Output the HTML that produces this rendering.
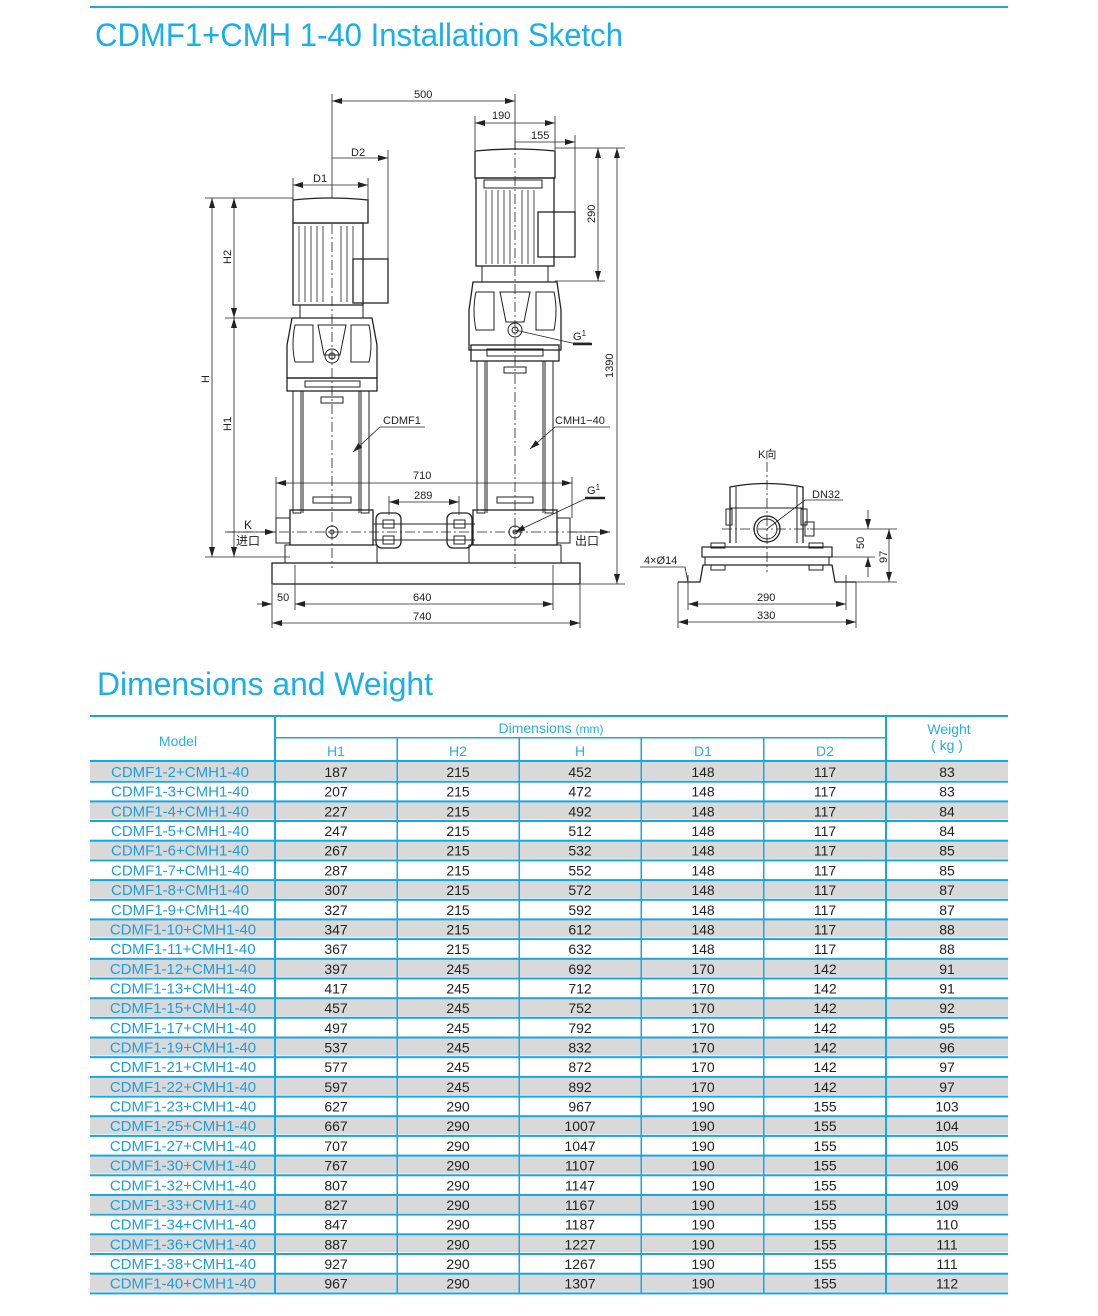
<!DOCTYPE html>
<html><head><meta charset="utf-8"><style>
html,body{margin:0;padding:0;background:#fff}
svg{display:block}
.t{font-family:"Liberation Sans","Noto Sans CJK SC",sans-serif}
.d{font-family:"Liberation Sans","Noto Sans CJK SC",sans-serif;font-size:11px;fill:#222}
.m{font-size:15px;fill:#1a9fe0;text-anchor:middle;font-family:"Liberation Sans",sans-serif}
.n{font-size:14px;fill:#222;text-anchor:middle;font-family:"Liberation Sans",sans-serif}
.h{font-size:14px;fill:#29aee8;text-anchor:middle;font-family:"Liberation Sans",sans-serif}
</style></head><body>
<svg width="1098" height="1316" viewBox="0 0 1098 1316" xmlns="http://www.w3.org/2000/svg">
<defs>
<marker id="a" viewBox="0 0 10 6" refX="10" refY="3" markerWidth="10" markerHeight="6" orient="auto-start-reverse" markerUnits="userSpaceOnUse"><path d="M0,0 L10,3 L0,6 z" fill="#222"/></marker>
</defs>
<rect x="90" y="6" width="918" height="2" fill="#1aa8e6"/>
<text x="95" y="46" class="t" font-size="32" fill="#1aaeea" textLength="528" lengthAdjust="spacingAndGlyphs">CDMF1+CMH 1-40 Installation Sketch</text>
<text x="97" y="695" class="t" font-size="32" fill="#1aaeea" textLength="336" lengthAdjust="spacingAndGlyphs">Dimensions and Weight</text>

<!-- DRAWING -->
<g stroke="#222" fill="none" stroke-width="1">
<g stroke-dasharray="10,3,2,3" stroke-width="0.8">
<line x1="332" y1="188" x2="332" y2="568"/>
<line x1="515" y1="140" x2="515" y2="568"/>
<line x1="225" y1="532" x2="610" y2="532"/>
<line x1="767" y1="462" x2="767" y2="572"/>
<line x1="722" y1="529" x2="812" y2="529"/>
</g>
<path d="M293,200 Q330,196 368,200 L368,223 L293,223 Z" fill="#fff" stroke-width="1.3"/>
<rect x="293" y="223" width="70" height="82" stroke-width="1.3"/>
<g stroke-width="0.8">
<line x1="299" y1="226" x2="299" y2="302"/><line x1="305" y1="226" x2="305" y2="302"/><line x1="311" y1="226" x2="311" y2="302"/><line x1="317" y1="226" x2="317" y2="302"/><line x1="323" y1="226" x2="323" y2="302"/><line x1="341" y1="226" x2="341" y2="302"/><line x1="347" y1="226" x2="347" y2="302"/><line x1="353" y1="226" x2="353" y2="302"/>
</g>
<rect x="353" y="259" width="35" height="44" stroke-width="1.3"/>
<rect x="300" y="305" width="63" height="13"/>
<path d="M292,318 L372,318 L377,345 L377,378 L287,378 L287,345 Z" stroke-width="1.3"/>
<path d="M295,325 L313,325 L313,362 L295,362 Q291,345 295,325Z"/><path d="M351,325 L369,325 Q373,345 369,362 L351,362Z"/>
<path d="M318,325 L346,325 L340,355 L324,355Z"/>
<circle cx="332" cy="356" r="7"/><circle cx="332" cy="356" r="3"/>
<rect x="287" y="378" width="90" height="13" stroke-width="1.3"/>
<rect x="305" y="381" width="55" height="6"/>
<rect x="293" y="391" width="8" height="122"/><rect x="361" y="391" width="8" height="122"/>
<line x1="303" y1="391" x2="303" y2="513"/><line x1="359" y1="391" x2="359" y2="513"/>
<rect x="321" y="397" width="22" height="6"/>
<rect x="313" y="497" width="38" height="6"/>
<rect x="290" y="510" width="83" height="35" stroke-width="1.3"/>
<circle cx="332" cy="532" r="6"/><circle cx="332" cy="532" r="2"/>
<rect x="276" y="518" width="14" height="25"/>
<rect x="285" y="545" width="92" height="18"/>
<path d="M475,151 Q515,147 555,151 L555,178 L475,178 Z" stroke-width="1.3"/>
<rect x="476" y="178" width="78" height="88" stroke-width="1.3"/>
<rect x="484" y="180" width="58" height="8"/>
<g stroke-width="0.8">
<line x1="486" y1="190" x2="486" y2="264"/><line x1="492" y1="190" x2="492" y2="264"/><line x1="498" y1="190" x2="498" y2="264"/><line x1="504" y1="190" x2="504" y2="264"/><line x1="510" y1="190" x2="510" y2="264"/><line x1="522" y1="190" x2="522" y2="264"/><line x1="528" y1="190" x2="528" y2="264"/><line x1="534" y1="190" x2="534" y2="264"/>
</g>
<rect x="538" y="212" width="37" height="45" stroke-width="1.3"/>
<rect x="482" y="266" width="66" height="16"/>
<path d="M473,282 L557,282 L561,310 L561,350 L469,350 L469,310 Z" stroke-width="1.3"/>
<path d="M476,292 L494,292 L494,330 L476,330 Q472,310 476,292Z"/><path d="M536,292 L554,292 Q558,310 554,330 L536,330Z"/>
<path d="M500,292 L530,292 L524,322 L506,322Z"/>
<circle cx="515" cy="330" r="7"/><circle cx="515" cy="330" r="3"/>
<rect x="471" y="345" width="88" height="16" stroke-width="1.3"/>
<rect x="487" y="349" width="56" height="7"/>
<rect x="477" y="361" width="8" height="152"/><rect x="545" y="361" width="8" height="152"/>
<line x1="487" y1="361" x2="487" y2="513"/><line x1="543" y1="361" x2="543" y2="513"/>
<rect x="504" y="367" width="22" height="6"/>
<rect x="497" y="497" width="36" height="6"/>
<rect x="473" y="510" width="84" height="35" stroke-width="1.3"/>
<circle cx="515" cy="532" r="6"/><circle cx="515" cy="532" r="2"/>
<rect x="557" y="518" width="13" height="25"/>
<rect x="469" y="545" width="92" height="18"/>
<line x1="373" y1="524" x2="475" y2="524"/><line x1="373" y1="540" x2="475" y2="540"/>
<rect x="376" y="513" width="25" height="35" rx="6" stroke-width="1.3"/>
<rect x="447" y="513" width="25" height="35" rx="6" stroke-width="1.3"/>
<rect x="383" y="520" width="11" height="8"/><rect x="383" y="536" width="11" height="8"/>
<rect x="454" y="520" width="11" height="8"/><rect x="454" y="536" width="11" height="8"/>
<rect x="272" y="563" width="308" height="21" stroke-width="1.3"/>
<g stroke-width="0.8">
<line x1="332" y1="94" x2="332" y2="190"/><line x1="515" y1="94" x2="515" y2="150"/>
<line x1="332" y1="101" x2="515" y2="101" marker-start="url(#a)" marker-end="url(#a)"/>
<line x1="475" y1="116" x2="475" y2="150"/><line x1="555" y1="116" x2="555" y2="150"/>
<line x1="475" y1="123" x2="555" y2="123" marker-start="url(#a)" marker-end="url(#a)"/>
<line x1="575" y1="135" x2="575" y2="212"/>
<line x1="515" y1="142" x2="575" y2="142" marker-end="url(#a)"/>
<line x1="388" y1="150" x2="388" y2="259"/>
<line x1="332" y1="158" x2="388" y2="158" marker-end="url(#a)"/>
<line x1="293" y1="178" x2="293" y2="200"/><line x1="368" y1="178" x2="368" y2="200"/>
<line x1="293" y1="185" x2="368" y2="185" marker-start="url(#a)" marker-end="url(#a)"/>
<line x1="205" y1="198" x2="293" y2="198"/><line x1="225" y1="318" x2="292" y2="318"/><line x1="205" y1="557" x2="290" y2="557"/>
<line x1="212" y1="198" x2="212" y2="557" marker-start="url(#a)" marker-end="url(#a)"/>
<line x1="234" y1="198" x2="234" y2="318" marker-start="url(#a)" marker-end="url(#a)"/>
<line x1="234" y1="318" x2="234" y2="557" marker-start="url(#a)" marker-end="url(#a)"/>
<line x1="555" y1="148" x2="625" y2="148"/><line x1="555" y1="281" x2="605" y2="281"/><line x1="580" y1="584" x2="625" y2="584"/>
<line x1="598" y1="148" x2="598" y2="281" marker-start="url(#a)" marker-end="url(#a)"/>
<line x1="617" y1="148" x2="617" y2="584" marker-start="url(#a)" marker-end="url(#a)"/>
<line x1="276" y1="477" x2="276" y2="518"/><line x1="572" y1="477" x2="572" y2="518"/>
<line x1="276" y1="483" x2="572" y2="483" marker-start="url(#a)" marker-end="url(#a)"/>
<line x1="389" y1="496" x2="389" y2="515"/><line x1="459" y1="496" x2="459" y2="515"/>
<line x1="389" y1="502" x2="459" y2="502" marker-start="url(#a)" marker-end="url(#a)"/>
<line x1="272" y1="585" x2="272" y2="628"/><line x1="580" y1="585" x2="580" y2="628"/>
<line x1="295" y1="565" x2="295" y2="610"/><line x1="553" y1="565" x2="553" y2="610"/>
<line x1="257" y1="604" x2="272" y2="604" marker-end="url(#a)"/>
<line x1="295" y1="604" x2="553" y2="604" marker-start="url(#a)" marker-end="url(#a)"/>
<line x1="272" y1="623" x2="580" y2="623" marker-start="url(#a)" marker-end="url(#a)"/>
<line x1="227" y1="532" x2="275" y2="532" marker-end="url(#a)"/>
<line x1="570" y1="532" x2="610" y2="532" marker-end="url(#a)"/>
<polyline points="425,427 380,427 353,452" marker-end="url(#a)"/>
<polyline points="610,427 555,427 530,449" marker-end="url(#a)"/>
<polyline points="590,343 572,343 515,330"/>
<polyline points="605,498 587,498 515,532" marker-end="url(#a)"/>
</g>
<line x1="573" y1="344" x2="592" y2="344" stroke-width="2.5"/>
<line x1="585" y1="498" x2="605" y2="498" stroke-width="2.5"/>
<path d="M730,543 L730,487 Q767,480 803,487 L803,543" stroke-width="1.3"/>
<line x1="736" y1="487" x2="736" y2="543"/><line x1="797" y1="487" x2="797" y2="543"/>
<line x1="730" y1="508" x2="803" y2="508"/>
<rect x="726" y="509" width="6" height="16"/><rect x="801" y="509" width="6" height="16"/>
<circle cx="767" cy="529" r="13" stroke-width="1.3"/><circle cx="767" cy="529" r="10"/>
<rect x="805" y="522" width="9" height="14"/>
<rect x="702" y="547" width="130" height="10" stroke-width="1.2"/>
<rect x="705" y="557" width="124" height="8"/>
<rect x="711" y="543" width="14" height="5"/><rect x="809" y="543" width="14" height="5"/>
<rect x="711" y="565" width="14" height="5"/><rect x="809" y="565" width="14" height="5"/>
<polyline points="678,582 700,582 703,565 832,565 835,582 856,582" stroke-width="1.3"/>
<g stroke-width="0.8">
<polyline points="843,500 805,500 767,529"/>
<line x1="678" y1="582" x2="678" y2="628"/><line x1="856" y1="582" x2="856" y2="628"/>
<line x1="688" y1="575" x2="688" y2="610"/><line x1="846" y1="575" x2="846" y2="610"/>
<line x1="688" y1="604" x2="846" y2="604" marker-start="url(#a)" marker-end="url(#a)"/>
<line x1="678" y1="622" x2="856" y2="622" marker-start="url(#a)" marker-end="url(#a)"/>
<line x1="810" y1="529" x2="897" y2="529"/><line x1="825" y1="557" x2="875" y2="557"/><line x1="856" y1="582" x2="897" y2="582"/>
<line x1="868" y1="510" x2="868" y2="529" marker-end="url(#a)"/><line x1="868" y1="577" x2="868" y2="557" marker-end="url(#a)"/>
<line x1="889" y1="529" x2="889" y2="582" marker-start="url(#a)" marker-end="url(#a)"/>
<polyline points="640,567 685,567 688,582"/>
</g>
</g>
<g class="d">
<text x="414" y="98">500</text><text x="492" y="119">190</text><text x="531" y="139">155</text>
<text x="351" y="156">D2</text><text x="313" y="182">D1</text>
<text x="231" y="264" transform="rotate(-90 231 264)">H2</text>
<text x="209" y="383" transform="rotate(-90 209 383)">H</text>
<text x="231" y="431" transform="rotate(-90 231 431)">H1</text>
<text x="595" y="223" transform="rotate(-90 595 223)">290</text>
<text x="613" y="378" transform="rotate(-90 613 378)">1390</text>
<text x="383" y="424">CDMF1</text><text x="555" y="424">CMH1−40</text>
<text x="573" y="340">G<tspan font-size="8" dy="-4">1</tspan></text>
<text x="587" y="494">G<tspan font-size="8" dy="-4">1</tspan></text>
<text x="413" y="479">710</text><text x="414" y="499">289</text>
<text x="244" y="529" font-size="12">K</text><text x="236" y="545" font-size="12">进口</text>
<text x="575" y="545" font-size="12">出口</text>
<text x="277" y="601">50</text><text x="413" y="601">640</text><text x="413" y="620">740</text>
<text x="758" y="458">K向</text><text x="812" y="498">DN32</text>
<text x="644" y="564">4×Ø14</text>
<text x="757" y="601">290</text><text x="757" y="619">330</text>
<text x="864" y="549" transform="rotate(-90 864 549)">50</text>
<text x="887" y="563" transform="rotate(-90 887 563)">97</text>
</g>

<g>
<rect x="90" y="715" width="918" height="2" fill="#18a6e4"/>
<rect x="275" y="737" width="611" height="1.5" fill="#18a6e4"/>
<rect x="90" y="760" width="918" height="2" fill="#18a6e4"/>
<text x="178" y="746" class="h">Model</text>
<text x="551" y="733" class="h">Dimensions <tspan font-size="12">(mm)</tspan></text>
<text x="949" y="734" class="h">Weight</text>
<text x="947" y="750" class="h" font-size="12">( kg )</text>
<text x="336" y="756" class="h">H1</text><text x="458" y="756" class="h">H2</text><text x="580" y="756" class="h">H</text><text x="703" y="756" class="h">D1</text><text x="825" y="756" class="h">D2</text>
</g>
<g fill="#d9d9d9">
<rect x="90" y="762" width="918" height="18"/><rect x="90" y="801.4" width="918" height="18"/><rect x="90" y="840.7" width="918" height="18"/><rect x="90" y="880.1" width="918" height="18"/><rect x="90" y="919.4" width="918" height="18"/><rect x="90" y="958.8" width="918" height="18"/><rect x="90" y="998.2" width="918" height="18"/><rect x="90" y="1037.5" width="918" height="18"/><rect x="90" y="1076.9" width="918" height="18"/><rect x="90" y="1116.2" width="918" height="18"/><rect x="90" y="1155.6" width="918" height="18"/><rect x="90" y="1195" width="918" height="18"/><rect x="90" y="1234.3" width="918" height="18"/><rect x="90" y="1273.7" width="918" height="18"/>
</g>
<g fill="#18a6e4">
<rect x="90" y="780.7" width="918" height="2"/><rect x="90" y="800.4" width="918" height="2"/><rect x="90" y="820" width="918" height="2"/><rect x="90" y="839.7" width="918" height="2"/><rect x="90" y="859.4" width="918" height="2"/><rect x="90" y="879.1" width="918" height="2"/><rect x="90" y="898.8" width="918" height="2"/><rect x="90" y="918.4" width="918" height="2"/><rect x="90" y="938.1" width="918" height="2"/><rect x="90" y="957.8" width="918" height="2"/><rect x="90" y="977.5" width="918" height="2"/><rect x="90" y="997.2" width="918" height="2"/><rect x="90" y="1016.8" width="918" height="2"/><rect x="90" y="1036.5" width="918" height="2"/><rect x="90" y="1056.2" width="918" height="2"/><rect x="90" y="1075.9" width="918" height="2"/><rect x="90" y="1095.6" width="918" height="2"/><rect x="90" y="1115.2" width="918" height="2"/><rect x="90" y="1134.9" width="918" height="2"/><rect x="90" y="1154.6" width="918" height="2"/><rect x="90" y="1174.3" width="918" height="2"/><rect x="90" y="1194" width="918" height="2"/><rect x="90" y="1213.6" width="918" height="2"/><rect x="90" y="1233.3" width="918" height="2"/><rect x="90" y="1253" width="918" height="2"/><rect x="90" y="1272.7" width="918" height="2"/><rect x="90" y="1292.4" width="918" height="2"/>
<rect x="274" y="716" width="2" height="578"/><rect x="885" y="716" width="2" height="578"/>
<rect x="396.5" y="738" width="1.5" height="556"/><rect x="518.5" y="738" width="1.5" height="556"/><rect x="640.5" y="738" width="1.5" height="556"/><rect x="763" y="738" width="1.5" height="556"/>
</g>
<g>
<g transform="translate(0,777)"><text x="180" class="m">CDMF1-2+CMH1-40</text><text x="336" class="n">187</text><text x="458" class="n">215</text><text x="580" class="n">452</text><text x="703" class="n">148</text><text x="825" class="n">117</text><text x="947" class="n">83</text></g>
<g transform="translate(0,796.7)"><text x="180" class="m">CDMF1-3+CMH1-40</text><text x="336" class="n">207</text><text x="458" class="n">215</text><text x="580" class="n">472</text><text x="703" class="n">148</text><text x="825" class="n">117</text><text x="947" class="n">83</text></g>
<g transform="translate(0,816.4)"><text x="180" class="m">CDMF1-4+CMH1-40</text><text x="336" class="n">227</text><text x="458" class="n">215</text><text x="580" class="n">492</text><text x="703" class="n">148</text><text x="825" class="n">117</text><text x="947" class="n">84</text></g>
<g transform="translate(0,836)"><text x="180" class="m">CDMF1-5+CMH1-40</text><text x="336" class="n">247</text><text x="458" class="n">215</text><text x="580" class="n">512</text><text x="703" class="n">148</text><text x="825" class="n">117</text><text x="947" class="n">84</text></g>
<g transform="translate(0,855.7)"><text x="180" class="m">CDMF1-6+CMH1-40</text><text x="336" class="n">267</text><text x="458" class="n">215</text><text x="580" class="n">532</text><text x="703" class="n">148</text><text x="825" class="n">117</text><text x="947" class="n">85</text></g>
<g transform="translate(0,875.4)"><text x="180" class="m">CDMF1-7+CMH1-40</text><text x="336" class="n">287</text><text x="458" class="n">215</text><text x="580" class="n">552</text><text x="703" class="n">148</text><text x="825" class="n">117</text><text x="947" class="n">85</text></g>
<g transform="translate(0,895.1)"><text x="180" class="m">CDMF1-8+CMH1-40</text><text x="336" class="n">307</text><text x="458" class="n">215</text><text x="580" class="n">572</text><text x="703" class="n">148</text><text x="825" class="n">117</text><text x="947" class="n">87</text></g>
<g transform="translate(0,914.8)"><text x="180" class="m">CDMF1-9+CMH1-40</text><text x="336" class="n">327</text><text x="458" class="n">215</text><text x="580" class="n">592</text><text x="703" class="n">148</text><text x="825" class="n">117</text><text x="947" class="n">87</text></g>
<g transform="translate(0,934.4)"><text x="183" class="m">CDMF1-10+CMH1-40</text><text x="336" class="n">347</text><text x="458" class="n">215</text><text x="580" class="n">612</text><text x="703" class="n">148</text><text x="825" class="n">117</text><text x="947" class="n">88</text></g>
<g transform="translate(0,954.1)"><text x="183" class="m">CDMF1-11+CMH1-40</text><text x="336" class="n">367</text><text x="458" class="n">215</text><text x="580" class="n">632</text><text x="703" class="n">148</text><text x="825" class="n">117</text><text x="947" class="n">88</text></g>
<g transform="translate(0,973.8)"><text x="183" class="m">CDMF1-12+CMH1-40</text><text x="336" class="n">397</text><text x="458" class="n">245</text><text x="580" class="n">692</text><text x="703" class="n">170</text><text x="825" class="n">142</text><text x="947" class="n">91</text></g>
<g transform="translate(0,993.5)"><text x="183" class="m">CDMF1-13+CMH1-40</text><text x="336" class="n">417</text><text x="458" class="n">245</text><text x="580" class="n">712</text><text x="703" class="n">170</text><text x="825" class="n">142</text><text x="947" class="n">91</text></g>
<g transform="translate(0,1013.2)"><text x="183" class="m">CDMF1-15+CMH1-40</text><text x="336" class="n">457</text><text x="458" class="n">245</text><text x="580" class="n">752</text><text x="703" class="n">170</text><text x="825" class="n">142</text><text x="947" class="n">92</text></g>
<g transform="translate(0,1032.8)"><text x="183" class="m">CDMF1-17+CMH1-40</text><text x="336" class="n">497</text><text x="458" class="n">245</text><text x="580" class="n">792</text><text x="703" class="n">170</text><text x="825" class="n">142</text><text x="947" class="n">95</text></g>
<g transform="translate(0,1052.5)"><text x="183" class="m">CDMF1-19+CMH1-40</text><text x="336" class="n">537</text><text x="458" class="n">245</text><text x="580" class="n">832</text><text x="703" class="n">170</text><text x="825" class="n">142</text><text x="947" class="n">96</text></g>
<g transform="translate(0,1072.2)"><text x="183" class="m">CDMF1-21+CMH1-40</text><text x="336" class="n">577</text><text x="458" class="n">245</text><text x="580" class="n">872</text><text x="703" class="n">170</text><text x="825" class="n">142</text><text x="947" class="n">97</text></g>
<g transform="translate(0,1091.9)"><text x="183" class="m">CDMF1-22+CMH1-40</text><text x="336" class="n">597</text><text x="458" class="n">245</text><text x="580" class="n">892</text><text x="703" class="n">170</text><text x="825" class="n">142</text><text x="947" class="n">97</text></g>
<g transform="translate(0,1111.6)"><text x="183" class="m">CDMF1-23+CMH1-40</text><text x="336" class="n">627</text><text x="458" class="n">290</text><text x="580" class="n">967</text><text x="703" class="n">190</text><text x="825" class="n">155</text><text x="947" class="n">103</text></g>
<g transform="translate(0,1131.2)"><text x="183" class="m">CDMF1-25+CMH1-40</text><text x="336" class="n">667</text><text x="458" class="n">290</text><text x="580" class="n">1007</text><text x="703" class="n">190</text><text x="825" class="n">155</text><text x="947" class="n">104</text></g>
<g transform="translate(0,1150.9)"><text x="183" class="m">CDMF1-27+CMH1-40</text><text x="336" class="n">707</text><text x="458" class="n">290</text><text x="580" class="n">1047</text><text x="703" class="n">190</text><text x="825" class="n">155</text><text x="947" class="n">105</text></g>
<g transform="translate(0,1170.6)"><text x="183" class="m">CDMF1-30+CMH1-40</text><text x="336" class="n">767</text><text x="458" class="n">290</text><text x="580" class="n">1107</text><text x="703" class="n">190</text><text x="825" class="n">155</text><text x="947" class="n">106</text></g>
<g transform="translate(0,1190.3)"><text x="183" class="m">CDMF1-32+CMH1-40</text><text x="336" class="n">807</text><text x="458" class="n">290</text><text x="580" class="n">1147</text><text x="703" class="n">190</text><text x="825" class="n">155</text><text x="947" class="n">109</text></g>
<g transform="translate(0,1210)"><text x="183" class="m">CDMF1-33+CMH1-40</text><text x="336" class="n">827</text><text x="458" class="n">290</text><text x="580" class="n">1167</text><text x="703" class="n">190</text><text x="825" class="n">155</text><text x="947" class="n">109</text></g>
<g transform="translate(0,1229.6)"><text x="183" class="m">CDMF1-34+CMH1-40</text><text x="336" class="n">847</text><text x="458" class="n">290</text><text x="580" class="n">1187</text><text x="703" class="n">190</text><text x="825" class="n">155</text><text x="947" class="n">110</text></g>
<g transform="translate(0,1249.3)"><text x="183" class="m">CDMF1-36+CMH1-40</text><text x="336" class="n">887</text><text x="458" class="n">290</text><text x="580" class="n">1227</text><text x="703" class="n">190</text><text x="825" class="n">155</text><text x="947" class="n">111</text></g>
<g transform="translate(0,1269)"><text x="183" class="m">CDMF1-38+CMH1-40</text><text x="336" class="n">927</text><text x="458" class="n">290</text><text x="580" class="n">1267</text><text x="703" class="n">190</text><text x="825" class="n">155</text><text x="947" class="n">111</text></g>
<g transform="translate(0,1288.7)"><text x="183" class="m">CDMF1-40+CMH1-40</text><text x="336" class="n">967</text><text x="458" class="n">290</text><text x="580" class="n">1307</text><text x="703" class="n">190</text><text x="825" class="n">155</text><text x="947" class="n">112</text></g>
</g>
</svg>
</body></html>
